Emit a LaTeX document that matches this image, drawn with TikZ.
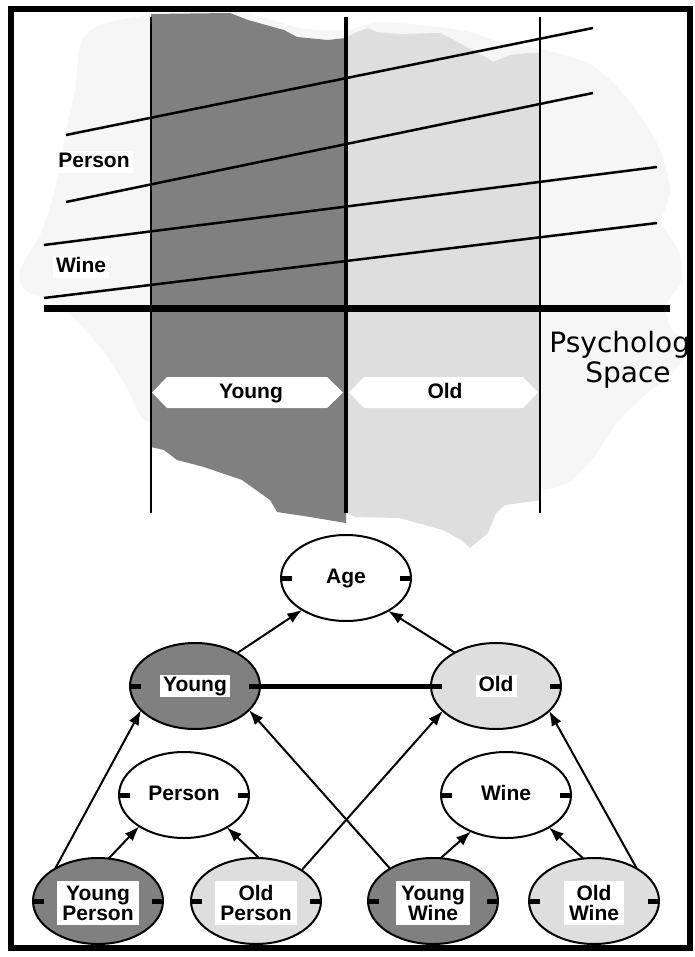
\documentclass[tikz,border=0pt]{standalone}
\usepackage{fontspec}
\setmainfont{Liberation Sans}
\newfontfamily\psyfont{DejaVu Sans}
\usetikzlibrary{shapes.geometric,arrows.meta}
\definecolor{darkregion}{HTML}{808080}
\definecolor{lightregion}{HTML}{DEDEDE}
\definecolor{haze}{HTML}{F6F6F6}

\begin{document}
\begin{tikzpicture}[x=1pt,y=-1pt,
  concept/.style={ellipse, draw, line width=2pt, minimum width=130pt,
    minimum height=86pt, inner sep=0pt, outer sep=0pt},
  youngfill/.style={concept, fill=darkregion},
  oldfill/.style={concept, fill=lightregion},
  plainfill/.style={concept, fill=white},
  lblfont/.style={font=\bfseries\fontsize{21}{20}\selectfont},
  lbl/.style={lblfont, fill=white, text height=15.5pt, text depth=4.5pt,
    inner xsep=3pt, inner ysep=1pt},
  lbltwo/.style={lblfont, fill=white, align=center, inner xsep=5pt,
    inner ysep=4.5pt},
  hexlbl/.style={lblfont, text height=15.5pt, text depth=4.5pt, inner sep=0pt},
  psy/.style={font=\psyfont\fontsize{28}{30}\selectfont, inner sep=0pt},
  tickmark/.style={line width=5pt},
  link/.style={line width=2pt, -{Latex[length=15pt,width=11pt]}},
  axis/.style={line width=2pt},
  slope/.style={line width=2.5pt}
]
\useasboundingbox (0,0) rectangle (695,957);

% ---------- psychological space ----------
% faint background blob
\fill[haze] plot[smooth cycle, tension=0.5] coordinates {
  (150,15) (110,22) (88,32) (79,50) (75,90) (66,130) (55,190) (40,235)
  (20,270) (25,290) (55,302) (85,330) (110,360) (128,390) (145,420)
  (200,440) (346,450) (520,488) (567,483) (594,457) (615,425) (645,395)
  (675,370) (688,345) (672,330) (666,305) (682,280) (678,250) (662,222)
  (670,190) (660,150) (640,115) (617,87) (590,64) (545,50) (500,42)
  (470,32) (430,26) (380,22) (346,30) (300,28) (250,14) (200,12)};

% the "young" band
\fill[darkregion] (151,14) -- (230,13) -- (248,20) -- (284,30) -- (297,37)
  -- (328,40) -- (346,38) -- (346,523) -- (310,517) -- (277,512)
  -- (270,500) -- (242,480) -- (204,467) -- (177,460) -- (164,450)
  -- (151,447) -- cycle;

% the "old" band
\fill[lightregion] (346,38) -- (355,33) -- (368,28) -- (377,32) -- (399,34)
  -- (440,33) -- (450,38) -- (467,47) -- (487,58) -- (493,62) -- (510,55)
  -- (527,53) -- (540,53) -- (540,500) -- (527,502) -- (505,505)
  -- (496,513) -- (488,533) -- (470,548) -- (461,540) -- (443,530)
  -- (399,518) -- (355,517) -- (346,513) -- cycle;

% sloped concept lines
\coordinate (p1a) at (66,135);  \coordinate (p1b) at (593,28);
\coordinate (p2a) at (66,202);  \coordinate (p2b) at (593,93);
\coordinate (w1a) at (44,245);  \coordinate (w1b) at (657,167);
\coordinate (w2a) at (44,298);  \coordinate (w2b) at (657,223);
\draw[slope] (p1a) -- (p1b);
\draw[slope] (p2a) -- (p2b);
\draw[slope] (w1a) -- (w1b);
\draw[slope] (w2a) -- (w2b);

% vertical boundaries and the age axis
\coordinate (v1t) at (151,17);  \coordinate (v1b) at (151,513);
\coordinate (v2t) at (346,17);  \coordinate (v2b) at (346,513);
\coordinate (v3t) at (540,17);  \coordinate (v3b) at (540,513);
\coordinate (axl) at (44,308);  \coordinate (axr) at (670,308);
\draw[axis] (v1t) -- (v1b);
\draw[line width=4pt] (v2t) -- (v2b);
\draw[axis] (v3t) -- (v3b);
\draw[line width=7pt] (axl) -- (axr);

% region tags
\fill[white] (152,392.5) -- (167,377) -- (327,377) -- (343,392.5)
  -- (327,408) -- (167,408) -- cycle;
\fill[white] (349,392.5) -- (364,377) -- (523,377) -- (538,392.5)
  -- (523,408) -- (364,408) -- cycle;
\node[hexlbl] (tagyoung) at (251,392.5) {Young};
\node[hexlbl] (tagold) at (445,392.5) {Old};

\node[lbl] (lperson) at (94,162) {Person};
\node[lbl] (lwine) at (81,267) {Wine};

\begin{scope}
  \clip (0,0) rectangle (687,957);
  \node[psy, anchor=base] (psy1) at (628,352) {Psychology};
  \node[psy, anchor=base] (psy2) at (628,382) {Space};
\end{scope}

% ---------- concept hierarchy ----------
\node[plainfill] (age) at (346,578) {};
\node[youngfill] (young) at (195,686) {};
\node[oldfill] (old) at (496,686) {};
\node[plainfill] (person) at (184,795) {};
\node[plainfill] (wine) at (506,795) {};
\node[youngfill] (yp) at (98,901) {};
\node[oldfill] (op) at (256,901) {};
\node[youngfill] (yw) at (433,901) {};
\node[oldfill] (ow) at (594,901) {};

\foreach \n in {age,young,old,person,wine,yp,op,yw,ow}{
  \draw[tickmark] (\n.west) -- ++(11,0);
  \draw[tickmark] (\n.east) -- ++(-11,0);
}

\node[lblfont, inner sep=0pt, text height=15.5pt, text depth=4.5pt] (tage) at (age) {Age};
\node[lblfont, inner sep=0pt, text height=15.5pt, text depth=4.5pt] (tperson) at (person) {Person};
\node[lblfont, inner sep=0pt, text height=15.5pt, text depth=4.5pt] (twine) at (wine) {Wine};
\node[lbl] (tyoung) at (young) {Young};
\node[lbl] (told) at (old) {Old};
\node[lbltwo] (typ) at ([yshift=-2pt]yp.center) {Young\\Person};
\node[lbltwo] (top) at ([yshift=-2pt]op.center) {Old\\Person};
\node[lbltwo] (tyw) at ([yshift=-2pt]yw.center) {Young\\Wine};
\node[lbltwo] (tow) at ([yshift=-2pt]ow.center) {Old\\Wine};

\draw[line width=5pt] (young.east) -- (old.west);

\draw[link] (young.38) -- (age.216);
\draw[link] (old.141) -- (age.-38);
\draw[link] (yp.76) -- (person.215);
\draw[link] (op.86) -- (person.-37);
\draw[link] (yw.80) -- (wine.226);
\draw[link] (ow.104) -- (wine.-37);
\draw[link] (yp.143) -- (young.204);
\draw[link] (yw.143) -- (young.-24);
\draw[link] (op.34) -- (old.205);
\draw[link] (ow.37) -- (old.-25);

% frame
\draw[line width=6pt] (10.5,9) rectangle (690,948);
\end{tikzpicture}
\end{document}
